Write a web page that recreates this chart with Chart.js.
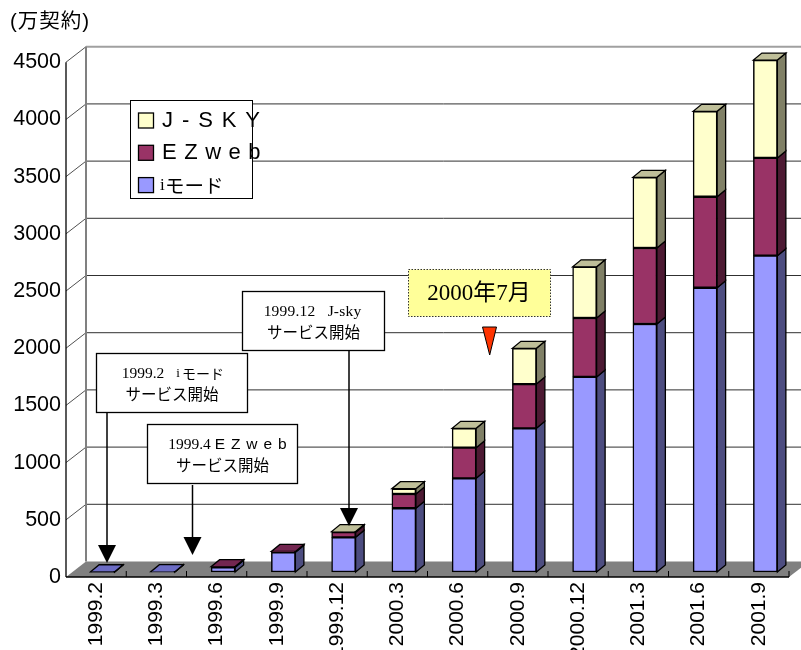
<!DOCTYPE html>
<html>
<head>
<meta charset="utf-8">
<style>
  html, body { margin: 0; padding: 0; background: #fff; }
  canvas { display: block; }
</style>
<script src="https://cdn.jsdelivr.net/npm/chart.js@4/dist/chart.umd.js"></script>
</head>
<body>
<canvas id="chart" width="801" height="650"></canvas>
<script>
const categories = ['1999.2', '1999.3', '1999.6', '1999.9', '1999.12', '2000.3', '2000.6', '2000.9', '2000.12', '2001.3', '2001.6', '2001.9'];
const imode = [2, 3, 41, 172, 303, 557, 819, 1256, 1705, 2168, 2485, 2765];
const ezweb = [0, 0, 6, 8, 45, 125, 268, 387, 515, 664, 795, 855];
const jsky = [0, 0, 0, 0, 5, 46, 169, 312, 448, 618, 747, 855];
const yTickValues = [0, 500, 1000, 1500, 2000, 2500, 3000, 3500, 4000, 4500];
const yTicksMax = 4500;

const SANS = '"Liberation Sans", "Noto Sans CJK JP", sans-serif';
const NARROW = '"Liberation Sans Narrow", "Liberation Sans", sans-serif';
const SERIF = '"Liberation Serif", "Noto Sans CJK JP", serif';
const CJK = '"Noto Sans CJK JP", sans-serif';

// depth of the fake 3d box: bars, and the floor/wall behind them
const barDepth = { x: 8.5, y: -7 };
const wallDepth = { x: 20, y: -15.5 };
const barShift = { x: 6.5, y: -5 };

function poly(ctx, pts, fill, stroke, lw) {
  ctx.beginPath();
  pts.forEach((p, i) => (i ? ctx.lineTo(p[0], p[1]) : ctx.moveTo(p[0], p[1])));
  ctx.closePath();
  if (fill) { ctx.fillStyle = fill; ctx.fill(); }
  if (stroke) { ctx.strokeStyle = stroke; ctx.lineWidth = lw || 1; ctx.stroke(); }
}

function line(ctx, x1, y1, x2, y2, color, lw) {
  ctx.beginPath();
  ctx.moveTo(x1, y1);
  ctx.lineTo(x2, y2);
  ctx.strokeStyle = color;
  ctx.lineWidth = lw;
  ctx.stroke();
}

function text(ctx, str, x, y, font, align, spacing) {
  ctx.save();
  ctx.font = font;
  ctx.letterSpacing = (spacing || 0) + 'px';
  ctx.fillStyle = '#000';
  ctx.textAlign = align || 'center';
  ctx.textBaseline = 'middle';
  ctx.fillText(str, x, y);
  ctx.restore();
}

function arrow(ctx, x, y1, y2) {
  line(ctx, x, y1, x, y2 - 17, '#000', 1.5);
  poly(ctx, [[x - 9, y2 - 18], [x + 9, y2 - 18], [x, y2]], '#000');
}

function callout(ctx, x, y, w, h, first, second) {
  ctx.fillStyle = '#fff';
  ctx.fillRect(x, y, w, h);
  ctx.strokeStyle = '#000';
  ctx.lineWidth = 1.3;
  ctx.strokeRect(x, y, w, h);
  first(x + w / 2, y + 20);
  text(ctx, second, x + w / 2, y + 41, '15.5px ' + CJK);
}

const wallPlugin = {
  id: 'wall',
  beforeDraw(chart) {
    const { ctx, chartArea: a, scales: { x, y } } = chart;
    const base = y.getPixelForValue(0);
    const top = y.getPixelForValue(yTicksMax);
    const dx = wallDepth.x, dy = wallDepth.y;
    ctx.save();
    // floor
    poly(ctx, [[a.left, base], [a.right, base], [a.right + dx, base + dy], [a.left + dx, base + dy]], '#808080');
    // gridlines on back wall plus the short diagonals to the axis
    y.ticks.forEach(t => {
      const py = y.getPixelForValue(t.value);
      if (t.value > 0) {
        line(ctx, a.left + dx, py + dy, 801, py + dy, t.value === yTicksMax ? '#a0a0a0' : '#303030', t.value === yTicksMax ? 2 : 1);
        line(ctx, a.left, py, a.left + dx, py + dy, '#505050', 1);
      }
    });
    line(ctx, a.left + dx, top + dy, a.left + dx, base + dy, '#808080', 2);
    // axes
    line(ctx, a.left, top, a.left, base, '#000', 1.3);
    line(ctx, a.left, base, a.right, base, '#000', 1.3);
    const band = x.getPixelForValue(1) - x.getPixelForValue(0);
    categories.forEach((c, i) => {
      const px = x.getPixelForValue(i) + band / 2;
      line(ctx, px, base, px, base - 6, '#000', 1);
    });
    ctx.restore();
  },
  beforeDatasetsDraw(chart) {
    const ctx = chart.ctx;
    ctx.save();
    ctx.translate(barShift.x, barShift.y);
    const dx = barDepth.x, dy = barDepth.y;
    const metas = chart.getSortedVisibleDatasetMetas();
    categories.forEach((c, i) => {
      let topEl = null, topIdx = 0;
      metas.forEach((m, d) => {
        const el = m.data[i];
        const l = el.x + el.width / 2;
        const ds = chart.data.datasets[d];
        poly(ctx, [[l, el.base], [l + dx, el.base + dy], [l + dx, el.y + dy], [l, el.y]], ds.sideColor, '#000', 1.3);
        if (ds.data[i] > 0) { topEl = el; topIdx = d; }
      });
      if (topEl) {
        const l = topEl.x - topEl.width / 2, r = topEl.x + topEl.width / 2;
        poly(ctx, [[l, topEl.y], [r, topEl.y], [r + dx, topEl.y + dy], [l + dx, topEl.y + dy]],
          chart.data.datasets[topIdx].topColor, '#000', 1.3);
      }
    });
  },
  afterDatasetsDraw(chart) {
    chart.ctx.restore();
  },
  afterDraw(chart) {
    const ctx = chart.ctx;
    ctx.save();
    text(ctx, '(万契約)', 10, 22, '20.5px ' + SANS, 'left', 1);

    // legend, top entry is the top of the stack
    ctx.fillStyle = '#fff';
    ctx.fillRect(130, 100, 123, 98);
    ctx.strokeStyle = '#000';
    ctx.lineWidth = 1;
    ctx.strokeRect(130.5, 100.5, 122, 98);
    [...chart.data.datasets].reverse().forEach((ds, i) => {
      const ly = 120.5 + i * 32.3;
      ctx.fillStyle = ds.backgroundColor;
      ctx.fillRect(138.5, ly - 7.5, 15, 15);
      ctx.strokeStyle = '#000';
      ctx.lineWidth = 1.3;
      ctx.strokeRect(138.5, ly - 7.5, 15, 15);
      if (ds.label === 'iモード') {
        text(ctx, 'i', 160, ly, '17px ' + SERIF, 'left');
        text(ctx, 'モード', 165, ly, '19.5px ' + CJK, 'left');
      } else {
        text(ctx, ds.label, 162, ly, '22px ' + NARROW, 'left', ds.label === 'J - S K Y' ? 1.4 : 0.7);
      }
    });

    // service start callouts
    arrow(ctx, 107, 412, 563);
    arrow(ctx, 192.5, 485, 555);
    arrow(ctx, 349, 351, 526);
    callout(ctx, 96.5, 353.5, 151, 59, (cx, cy) => {
      text(ctx, '1999.2', cx - 29, cy, '15.5px ' + SERIF);
      text(ctx, 'i', cx + 6, cy, '13px ' + SERIF);
      text(ctx, 'モード', cx + 31, cy, '14px ' + CJK);
    }, 'サービス開始');
    callout(ctx, 147.5, 424.5, 150, 59, (cx, cy) => {
      text(ctx, '1999.4', cx - 33, cy, '15.5px ' + SERIF);
      text(ctx, 'E Z w e b', cx + 28.5, cy, '15.5px ' + NARROW, 'center', 0.8);
    }, 'サービス開始');
    callout(ctx, 242.5, 291.5, 142, 59, (cx, cy) => {
      text(ctx, '1999.12   J-sky', cx - 1, cy, '15.5px ' + SERIF, 'center', 0.2);
    }, 'サービス開始');

    // 2000年7月 note with the red marker
    ctx.fillStyle = '#ffff99';
    ctx.fillRect(408.5, 269.5, 142, 47);
    ctx.strokeStyle = '#333';
    ctx.lineWidth = 1;
    ctx.setLineDash([1.5, 1.5]);
    ctx.strokeRect(408.5, 269.5, 142, 47);
    ctx.setLineDash([]);
    text(ctx, '2000年7月', 479, 294, '23px ' + SERIF);
    poly(ctx, [[482.5, 327], [496.5, 327], [489.7, 355]], '#ff3300', '#000', 1);
    ctx.restore();
  }
};

new Chart(document.getElementById('chart').getContext('2d'), {
  type: 'bar',
  data: {
    labels: categories,
    datasets: [
      { label: 'iモード', data: imode, backgroundColor: '#9999ff', sideColor: '#4d4d80', topColor: '#6c6cc4' },
      { label: 'E Z w e b', data: ezweb, backgroundColor: '#993366', sideColor: '#4d1a33', topColor: '#732650' },
      { label: 'J - S K Y', data: jsky, backgroundColor: '#ffffcc', sideColor: '#808066', topColor: '#bfbf99' },
    ],
  },
  options: {
    responsive: false,
    animation: false,
    layout: { padding: { top: 47, right: 12, left: 0, bottom: 0 } },
    plugins: { legend: { display: false }, title: { display: false }, tooltip: { enabled: false } },
    datasets: { bar: { barThickness: 24, borderColor: '#000', borderWidth: 1.5, borderSkipped: false, clip: false } },
    scales: {
      x: {
        stacked: true,
        grid: { display: false, drawTicks: false },
        border: { display: false },
        afterFit: s => { s.height = 73; },
        ticks: {
          minRotation: 90,
          maxRotation: 90,
          autoSkip: false,
          padding: 5,
          color: '#000',
          font: { family: NARROW, size: 21 },
        },
      },
      y: {
        stacked: true,
        min: 0,
        max: 4633,
        grid: { display: false, drawTicks: false },
        border: { display: false },
        afterFit: s => { s.width = 66; },
        afterBuildTicks: s => { s.ticks = yTickValues.map(v => ({ value: v })); },
        ticks: {
          padding: 5,
          color: '#000',
          font: { family: SANS, size: 21.5 },
          callback: v => String(v),
        },
      },
    },
  },
  plugins: [wallPlugin],
});
</script>
</body>
</html>
